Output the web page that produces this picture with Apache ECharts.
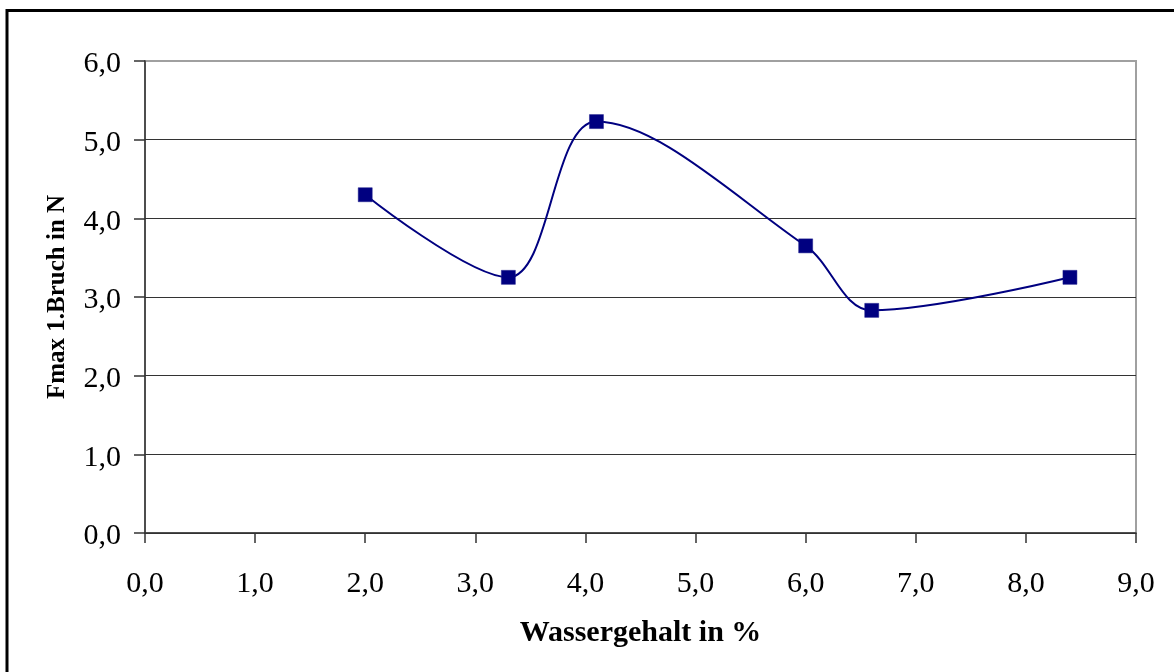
<!DOCTYPE html>
<html>
<head>
<meta charset="utf-8">
<script src="https://cdn.jsdelivr.net/npm/echarts@6/dist/echarts.min.js"></script>
<style>html,body{margin:0;padding:0;background:#fff;}#c{width:1174px;height:672px;}</style>
</head>
<body>
<div id="c"></div>
<script>
const xValues = [2.0, 3.3, 4.1, 6.0, 6.6, 8.4];
const yValues = [4.3, 3.25, 5.23, 3.65, 2.83, 3.25];
const xTitle = 'Wassergehalt in %';
const yTitle = 'Fmax 1.Bruch in N';

const FONT = "'Liberation Serif', 'Times New Roman', serif";
const fmt = v => v.toFixed(1).replace('.', ',');
const chart = echarts.init(document.getElementById('c'));
chart.setOption({
  animation: false,
  backgroundColor: '#fff',
  grid: { left: 145, top: 61, right: 38, bottom: 139, show: true, borderColor: '#a0a0a0', borderWidth: 2, backgroundColor: 'transparent' },
  graphic: [{
    type: 'rect', silent: true,
    shape: { x: 7, y: 10.5, width: 1400, height: 900 },
    style: { fill: 'none', stroke: '#000', lineWidth: 3 }
  }],
  xAxis: {
    type: 'value', min: 0, max: 9, interval: 1,
    name: xTitle, nameLocation: 'middle', nameGap: 85,
    nameTextStyle: { fontFamily: FONT, fontWeight: 'bold', fontSize: 30, color: '#000' },
    axisLine: { lineStyle: { color: '#333', width: 1.5 } },
    axisTick: { show: true, length: 10, lineStyle: { color: '#333', width: 1.5 } },
    axisLabel: { formatter: fmt, fontFamily: FONT, fontSize: 30, color: '#000', margin: 36 },
    splitLine: { show: false }
  },
  yAxis: {
    type: 'value', min: 0, max: 6, interval: 1,
    name: yTitle, nameLocation: 'middle', nameGap: 75, nameRotate: 90,
    nameTextStyle: { fontFamily: FONT, fontWeight: 'bold', fontSize: 25, color: '#000' },
    axisLine: { show: true, lineStyle: { color: '#333', width: 1.5 } },
    axisTick: { show: true, length: 11, inside: false, lineStyle: { color: '#333', width: 1.5 } },
    axisLabel: {
      formatter: v => '{v|' + fmt(v) + '}', margin: 24,
      rich: { v: { fontFamily: FONT, fontSize: 30, color: '#000', padding: [7, 0, 0, 0] } }
    },
    splitLine: { show: true, lineStyle: { color: ['#333','#333','#333','#333','#333','#333','#a0a0a0'], width: 1.2 } }
  },
  series: [{
    type: 'line',
    data: xValues.map((x, i) => [x, yValues[i]]),
    smooth: 0.35,
    symbol: 'rect', symbolSize: 14,
    lineStyle: { color: '#000080', width: 2 },
    itemStyle: { color: '#000080', borderColor: '#1a1a8a', borderWidth: 0.5 }
  }]
});
</script>
</body>
</html>
